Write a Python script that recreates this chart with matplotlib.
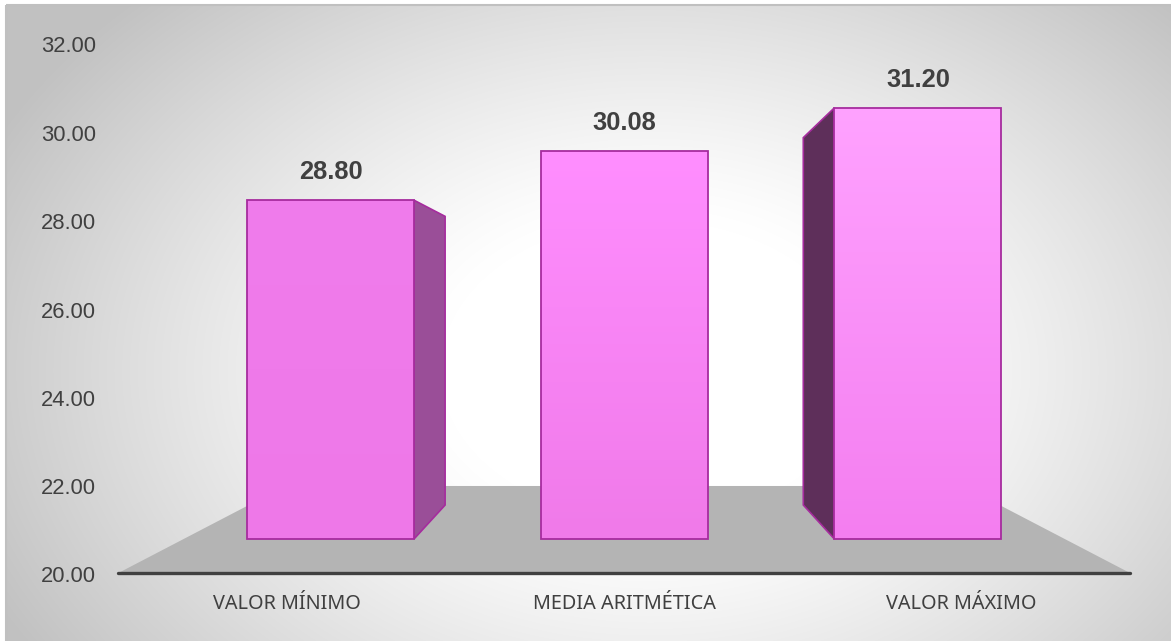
import numpy as np
import matplotlib
matplotlib.use("Agg")
import matplotlib.pyplot as plt
from matplotlib.patches import Polygon, Rectangle
from matplotlib.colors import LinearSegmentedColormap

# ---- data ----
categories = ["VALOR MÍNIMO", "MEDIA ARITMÉTICA", "VALOR MÁXIMO"]
values = [28.80, 30.08, 31.20]
value_labels = ["28.80", "30.08", "31.20"]
y_ticks = [20, 22, 24, 26, 28, 30, 32]
y_tick_labels = ["20.00", "22.00", "24.00", "26.00", "28.00", "30.00", "32.00"]
baseline = 20.0

# ---- styling ----
front_top = ["#f07cec", "#ff8eff", "#ffa2ff"]
front_bottom = ["#ee78e8", "#f07ae9", "#f47ef0"]
side_colors = ["#9a4e98", "#8a4088", "#5e2f5a"]
edge_color = "#a62c9e"
text_color = "#404040"
plt.rcParams["font.family"] = ["Liberation Sans", "DejaVu Sans"]

W, H = 1171, 641
fig = plt.figure(figsize=(W / 100, H / 100), dpi=100)

# ---- background panel with soft radial shading ----
bg = fig.add_axes([0, 0, 1, 1])
bg.set_xlim(0, W)
bg.set_ylim(H, 0)
bg.axis("off")
yy, xx = np.mgrid[0:H, 0:W]
r = np.sqrt(((xx - 650) / 700.0) ** 2 + ((yy - 370) / 500.0) ** 2)
t = np.clip((r - 0.3) / 0.75, 0, 1) ** 1.2
shade = 1 - t * (62 / 255)
shade[(xx < 6) | (yy < 5)] = 1.0
bg.imshow(np.dstack([shade] * 3), extent=(0, W, H, 0), aspect="auto",
          interpolation="bilinear", zorder=0)
bg.add_patch(Rectangle((6, 5), W + 20, H + 20, fill=False,
                       edgecolor="#c0c0c0", linewidth=1.5, zorder=1))

# ---- plot plane (front faces of the columns) ----
ax = fig.add_axes([0, 0, 1, 1])
ax.patch.set_visible(False)
ax.axis("off")
step = 293.7      # pixels between categories
ppu = 38.5        # pixels per value unit on the column front plane
x_first = 330.5   # pixel centre of the first category
y_base = 539.0    # pixel row of the baseline on the front plane
ax.set_xlim(-x_first / step, (W - x_first) / step)
ax.set_ylim(baseline - (H - y_base) / ppu, baseline + y_base / ppu)

# perspective: points recede towards a vanishing point
vp = (1.0, baseline + (y_base - 309.5) / ppu)
s_back = 0.852    # depth of the column back faces
s_floor_front = 1.148
s_floor_back = 0.769


def proj(x, y, s):
    return (vp[0] + s * (x - vp[0]), vp[1] + s * (y - vp[1]))


xs = np.arange(len(categories))
x_lo, x_hi = xs[0] - 0.5, xs[-1] + 0.5

# floor
floor = [proj(x_lo, baseline, s_floor_front), proj(x_hi, baseline, s_floor_front),
         proj(x_hi, baseline, s_floor_back), proj(x_lo, baseline, s_floor_back)]
ax.add_patch(Polygon(floor, closed=True, facecolor="#b4b4b4", edgecolor="none", zorder=1))
fl, fr = floor[0], floor[1]
ax.plot([fl[0], fr[0]], [fl[1], fr[1]], color="#404040", linewidth=2.4,
        solid_capstyle="round", zorder=2)

# columns
width = 0.5686
bars = ax.bar(xs, np.array(values) - baseline, bottom=baseline, width=width,
              facecolor="none", edgecolor=edge_color, linewidth=1.3, zorder=5)

for i, (bar, v) in enumerate(zip(bars, values)):
    xl, xr = xs[i] - width / 2, xs[i] + width / 2
    # visible side face
    edge_x = None
    if xr < vp[0] - 1e-6:
        edge_x = xr
    elif xl > vp[0] + 1e-6:
        edge_x = xl
    if edge_x is not None:
        side = [(edge_x, baseline), (edge_x, v), proj(edge_x, v, s_back),
                proj(edge_x, baseline, s_back)]
        ax.add_patch(Polygon(side, closed=True, facecolor=side_colors[i],
                             edgecolor=edge_color, linewidth=1.2, zorder=3))
    # shaded front face
    cmap = LinearSegmentedColormap.from_list(f"f{i}", [front_bottom[i], front_top[i]])
    grad = np.linspace(1, 0, 200).reshape(-1, 1)
    im = ax.imshow(grad, extent=(xl, xr, baseline, v), aspect="auto", cmap=cmap,
                   vmin=0, vmax=1, zorder=4, interpolation="bilinear")
    im.set_clip_path(bar)
    # value label
    ax.annotate(value_labels[i], (xs[i], v), xytext=(0, 20.2), textcoords="offset points",
                ha="center", va="center", fontsize=18.4, fontweight="bold",
                color=text_color, zorder=6)
    # category label along the front edge of the floor
    cx, cy = proj(xs[i], baseline, s_floor_front)
    ax.annotate(categories[i], (cx, cy), xytext=(0, -22.3), textcoords="offset points",
                ha="center", va="center", fontsize=14.3, color=text_color,
                family=["Noto Sans", "DejaVu Sans"], zorder=6)

ax.set_xlim(-x_first / step, (W - x_first) / step)
ax.set_ylim(baseline - (H - y_base) / ppu, baseline + y_base / ppu)

# ---- value axis on the back wall ----
ax_t = fig.add_axes([104 / W, (H - 574.5) / H, 0.001, (574.5 - 44.5) / H])
ax_t.set_ylim(y_ticks[0], y_ticks[-1])
ax_t.set_yticks(y_ticks, y_tick_labels)
ax_t.set_xticks([])
ax_t.tick_params(axis="y", length=0, pad=5.8, labelsize=15.8, labelcolor=text_color)
for sp in ax_t.spines.values():
    sp.set_visible(False)
ax_t.patch.set_visible(False)

fig.savefig("out.png", dpi=100)
